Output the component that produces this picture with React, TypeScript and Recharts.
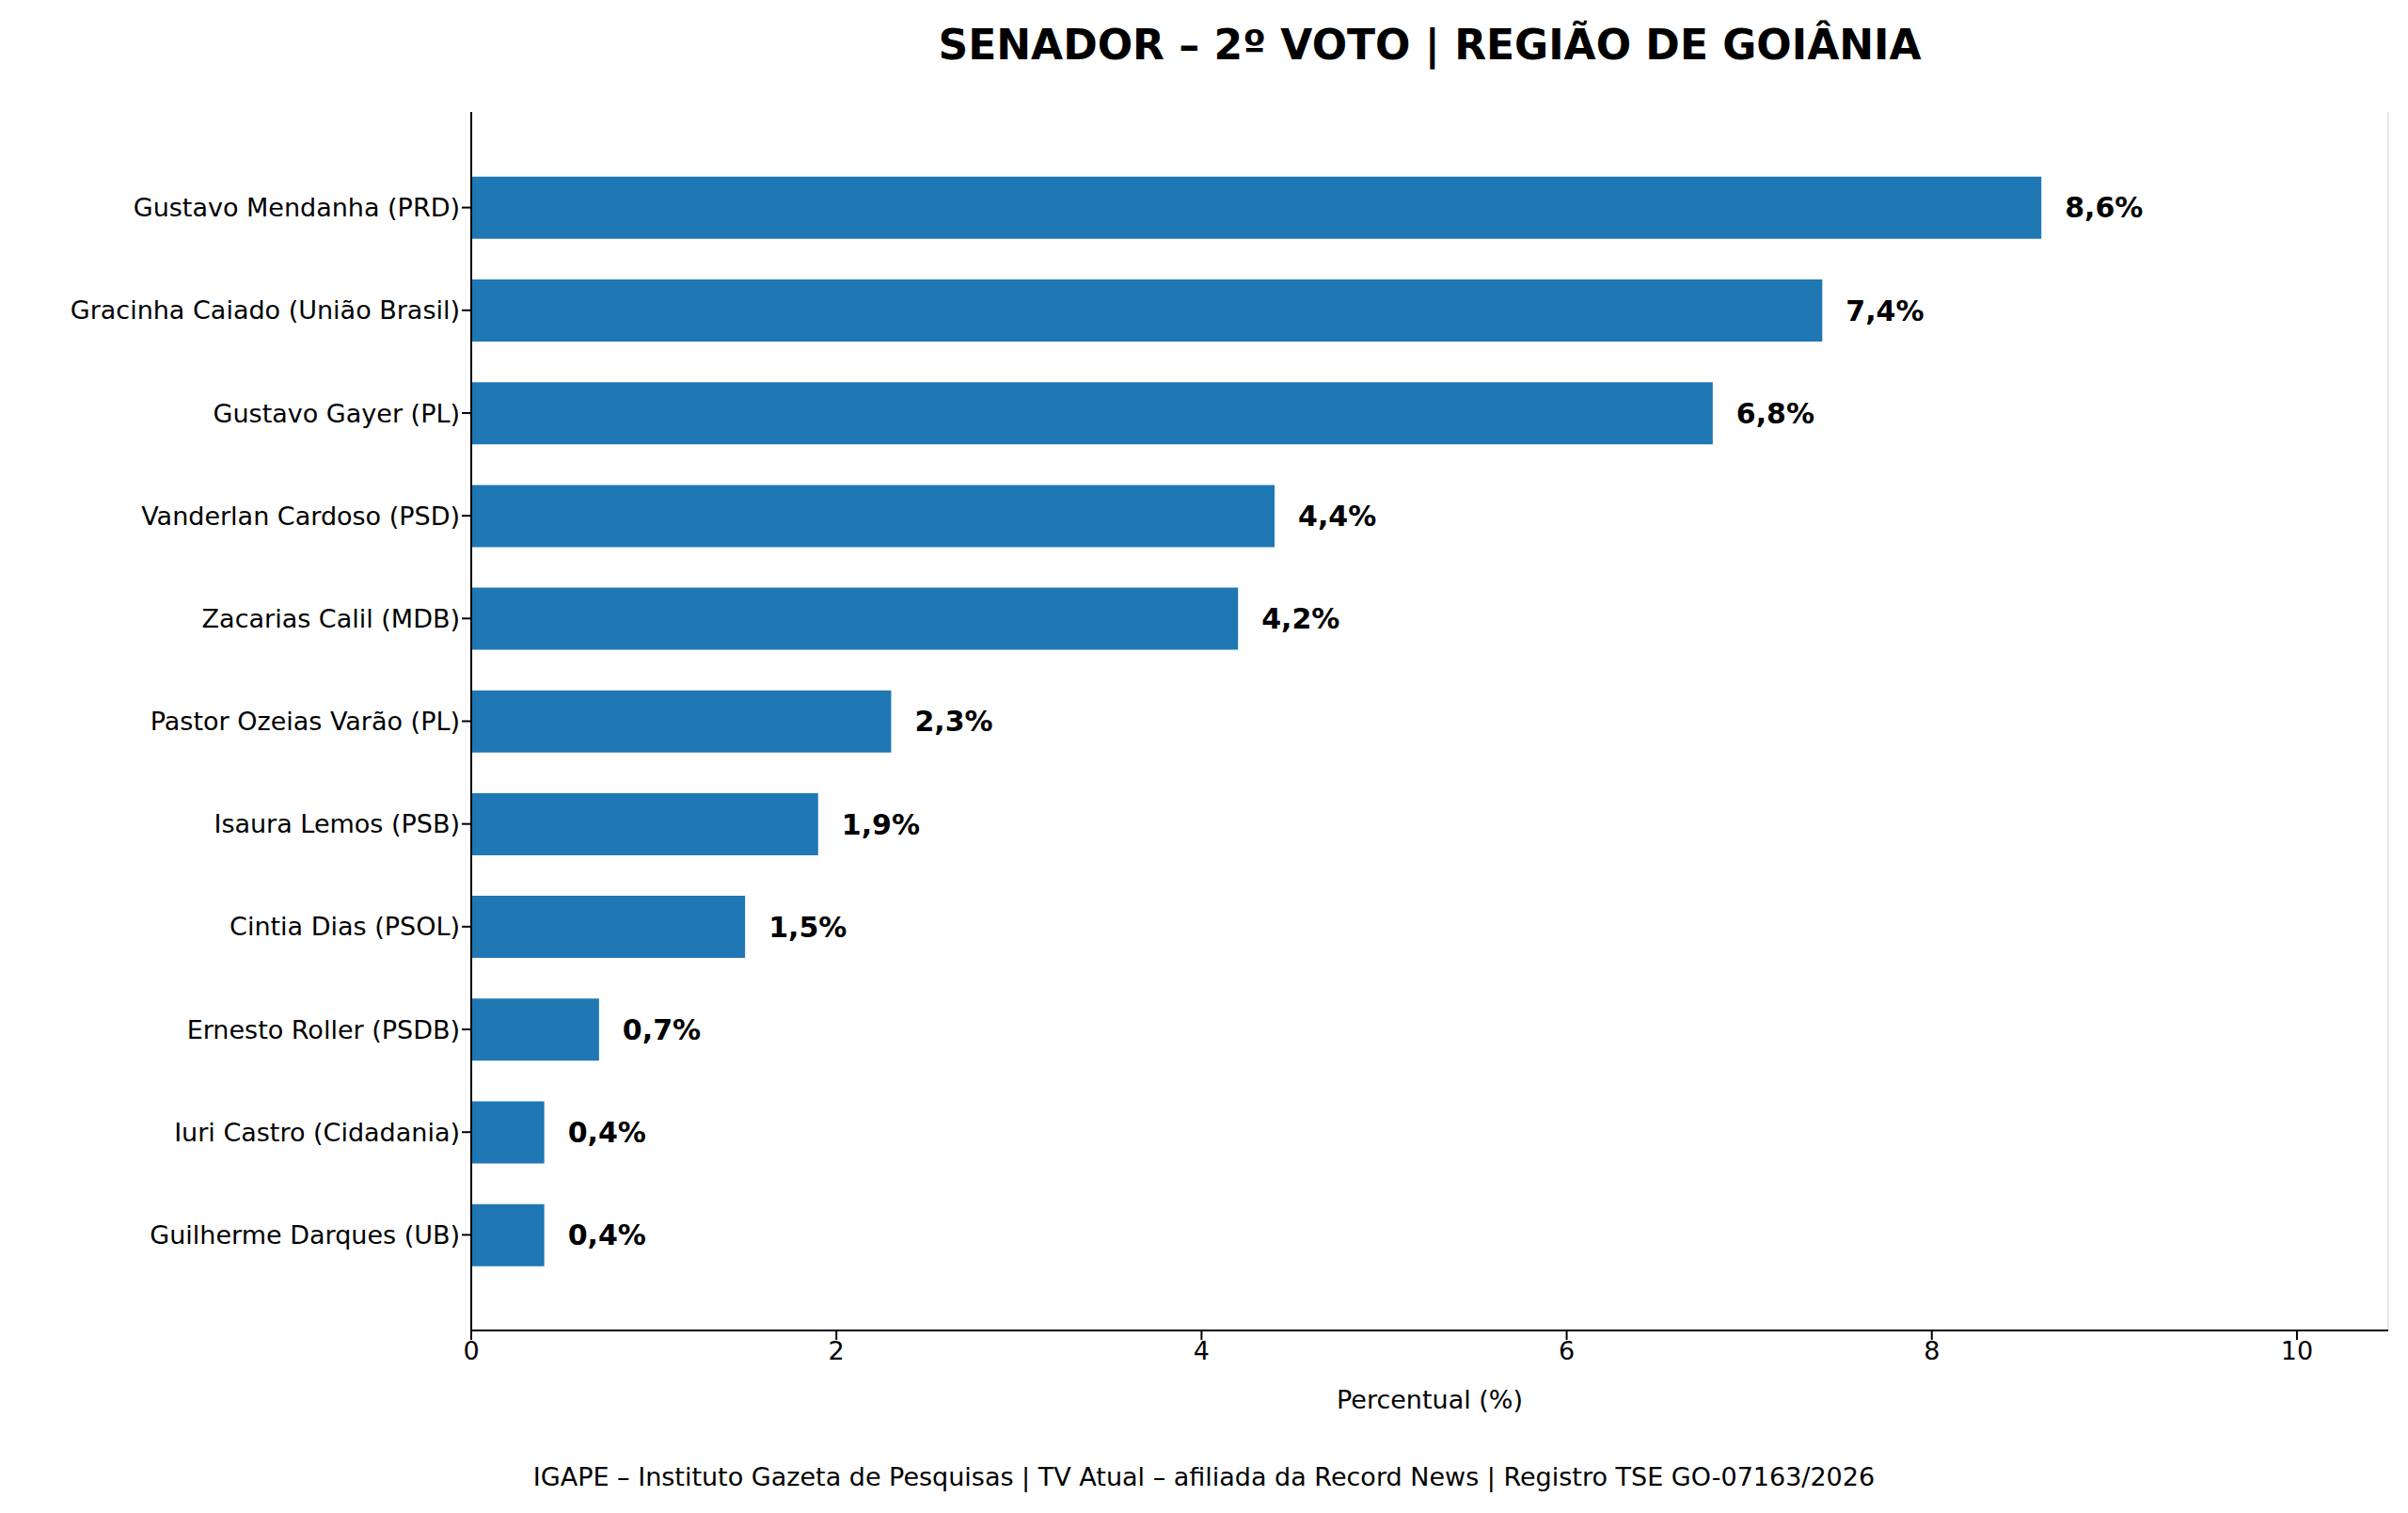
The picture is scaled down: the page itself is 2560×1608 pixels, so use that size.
import React from 'react';
import { BarChart, Bar, XAxis, YAxis, CartesianGrid, LabelList } from 'recharts';

const candidates = [
  'Gustavo Mendanha (PRD)',
  'Gracinha Caiado (União Brasil)',
  'Gustavo Gayer (PL)',
  'Vanderlan Cardoso (PSD)',
  'Zacarias Calil (MDB)',
  'Pastor Ozeias Varão (PL)',
  'Isaura Lemos (PSB)',
  'Cintia Dias (PSOL)',
  'Ernesto Roller (PSDB)',
  'Iuri Castro (Cidadania)',
  'Guilherme Darques (UB)',
];
const percents = [8.6, 7.4, 6.8, 4.4, 4.2, 2.3, 1.9, 1.5, 0.7, 0.4, 0.4];
const xTicks = [0, 2, 4, 6, 8, 10];

const data = candidates.map((name, i) => ({ name, value: percents[i] }));

const FONT = '"DejaVu Sans", sans-serif';

const App = () => {
  return (
    <div style={{ position: 'relative', width: 2560, height: 1608, margin: -8, background: '#fff', fontFamily: FONT }}>
      <div style={{ position: 'absolute', top: 22, left: 501, width: 2038, textAlign: 'center', fontSize: 44, fontWeight: 'bold' }}>
        SENADOR – 2º VOTO | REGIÃO DE GOIÂNIA
      </div>
      <BarChart
        width={2560}
        height={1608}
        data={data}
        layout="vertical"
        barCategoryGap="20%"
        margin={{ top: 119, right: 21, left: 11, bottom: 134 }}
      >
        <CartesianGrid horizontal={false} stroke="#e8e8e8" strokeWidth={2} />
        <XAxis
          xAxisId="b"
          type="number"
          domain={[0, 10.5]}
          ticks={xTicks}
          allowDataOverflow
          height={60}
          stroke="#000"
          strokeWidth={2}
          tickSize={10}
          tick={{ fill: '#000', fontSize: 27, fontFamily: FONT }}
        />
        <XAxis xAxisId="t" orientation="top" type="number" domain={[0, 10.5]} height={0} tick={false} tickLine={false} stroke="#000" strokeWidth={2} />
        <YAxis
          yAxisId="l"
          type="category"
          dataKey="name"
          width={490}
          padding={{ top: 47, bottom: 47 }}
          stroke="#000"
          strokeWidth={2}
          tickSize={10}
          interval={0}
          tick={{ fill: '#000', fontSize: 27, fontFamily: FONT }}
        />
        <YAxis yAxisId="r" orientation="right" type="category" dataKey="name" width={0} tick={false} tickLine={false} stroke="#000" strokeWidth={2} />
        <Bar xAxisId="b" yAxisId="l" dataKey="value" fill="#1f77b4" isAnimationActive={false}>
          <LabelList
            dataKey="value"
            position="right"
            offset={25}
            formatter={(v: number) => `${v.toFixed(1).replace('.', ',')}%`}
            style={{ fill: '#000', fontSize: 30, fontWeight: 'bold', fontFamily: FONT }}
          />
        </Bar>
      </BarChart>
      <div style={{ position: 'absolute', top: 1472, left: 501, width: 2038, textAlign: 'center', fontSize: 27 }}>
        Percentual (%)
      </div>
      <div style={{ position: 'absolute', top: 1554, left: 0, width: 2560, textAlign: 'center', fontSize: 27 }}>
        IGAPE – Instituto Gazeta de Pesquisas | TV Atual – afiliada da Record News | Registro TSE GO-07163/2026
      </div>
    </div>
  );
};

export default App;
